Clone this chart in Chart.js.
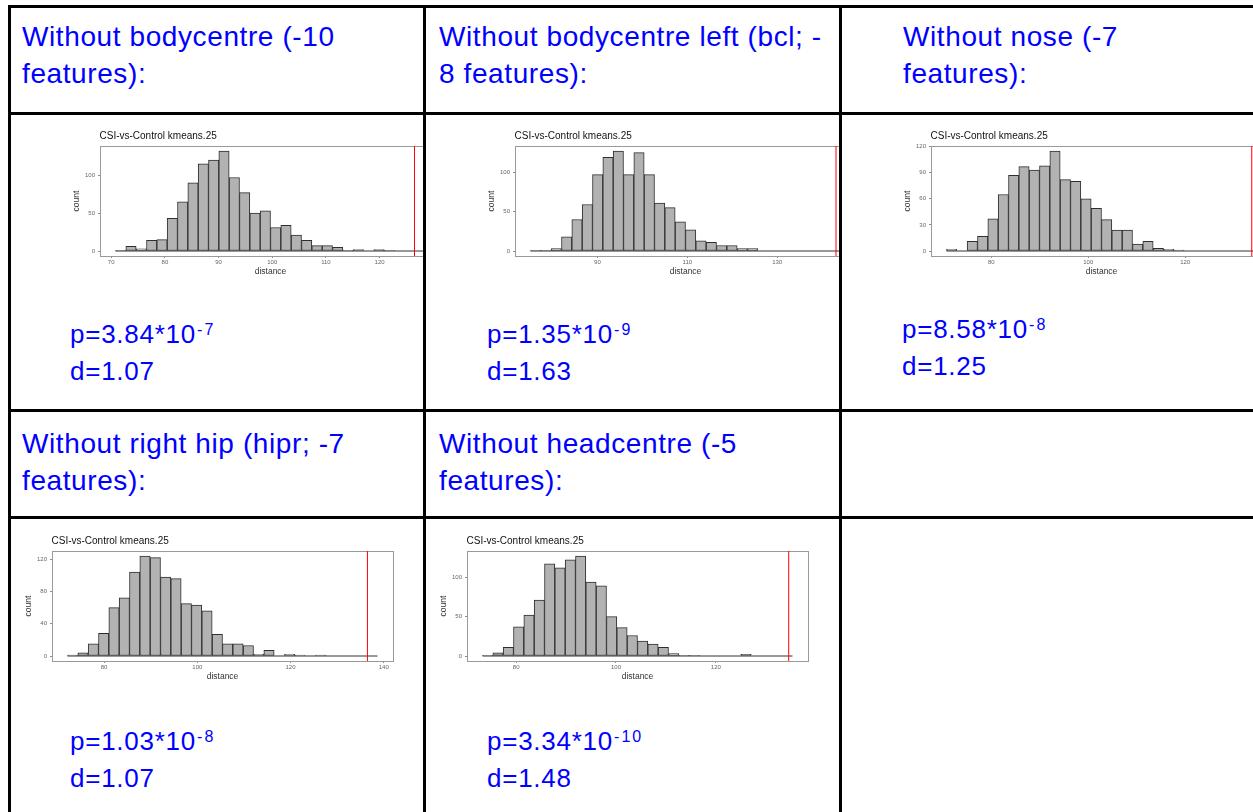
<!DOCTYPE html>
<html>
<head>
<meta charset="utf-8">
<script src="https://cdn.jsdelivr.net/npm/chart.js@4.4.0/dist/chart.umd.min.js"></script>
<style>
  body { margin: 0; width: 1253px; height: 812px; overflow: hidden; background: #fff; position: relative;
         font-family: 'Liberation Sans', Arial, sans-serif; }
  .hl { position: absolute; left: 7.5px; right: 0; height: 3px; background: #000; }
  .vl { position: absolute; top: 5px; bottom: 0; width: 3px; background: #000; }
  .head { position: absolute; color: #0000ff; font-size: 28px; line-height: 37px; letter-spacing: 0.6px; white-space: nowrap; }
  .stat { position: absolute; color: #0000ff; font-size: 26px; line-height: 37px; letter-spacing: 0.75px; white-space: nowrap; }
  .sup { font-size: 16px; line-height: 0; position: relative; top: -8px; letter-spacing: 2px; margin-left: 1px; }
  .clip { position: absolute; overflow: hidden; }
  .clip canvas { position: absolute; }
</style>
</head>
<body>

<!-- table rules -->
<div class="hl" style="top:5px"></div>
<div class="hl" style="top:112px"></div>
<div class="hl" style="top:408.5px"></div>
<div class="hl" style="top:516px"></div>
<div class="vl" style="left:7.5px"></div>
<div class="vl" style="left:423px"></div>
<div class="vl" style="left:839px"></div>

<!-- header cells -->
<div class="head" style="left:22px;top:18px">Without bodycentre (-10<br>features):</div>
<div class="head" style="left:439px;top:18px">Without bodycentre left (bcl; -<br>8 features):</div>
<div class="head" style="left:903px;top:18px">Without nose (-7<br>features):</div>
<div class="head" style="left:22px;top:425px">Without right hip (hipr; -7<br>features):</div>
<div class="head" style="left:439px;top:425px">Without headcentre (-5<br>features):</div>

<!-- statistics -->
<div class="stat" style="left:70px;top:316px">p=3.84*10<span class="sup">-7</span><br>d=1.07</div>
<div class="stat" style="left:487px;top:316px">p=1.35*10<span class="sup">-9</span><br>d=1.63</div>
<div class="stat" style="left:902px;top:311px">p=8.58*10<span class="sup">-8</span><br>d=1.25</div>
<div class="stat" style="left:70px;top:722.5px">p=1.03*10<span class="sup">-8</span><br>d=1.07</div>
<div class="stat" style="left:487px;top:722.5px">p=3.34*10<span class="sup">-10</span><br>d=1.48</div>

<!-- chart cells -->
<div class="clip" style="left:10.5px;top:115px;width:412.5px;height:293.5px"><canvas id="c1"></canvas></div>
<div class="clip" style="left:426px;top:115px;width:413px;height:293.5px"><canvas id="c2"></canvas></div>
<div class="clip" style="left:842px;top:115px;width:411px;height:293.5px"><canvas id="c3"></canvas></div>
<div class="clip" style="left:10.5px;top:519px;width:412.5px;height:293px"><canvas id="c4"></canvas></div>
<div class="clip" style="left:426px;top:519px;width:413px;height:293px"><canvas id="c5"></canvas></div>

<script>
const plotTitle = 'CSI-vs-Control kmeans.25';
const xLabel = 'distance';
const yLabel = 'count';

// without bodycentre
const binStart1 = 70.8, binWidth1 = 1.925;
const counts1 = [1, 6, 3, 14, 15, 43, 65, 90, 115, 120, 132, 97, 77, 50, 53, 31, 34, 21, 14, 7, 7, 5, 1, 2, 0, 2, 1, 0, 0, 0];
const observed1 = 126.5;
const xTicks1 = [70, 80, 90, 100, 110, 120, 130];
const yTicks1 = [0, 50, 100];

// without bodycentre left
const binStart2 = 75.1, binWidth2 = 2.3;
const counts2 = [1, 1, 3, 18, 40, 59, 97, 119, 127, 97, 125, 97, 61, 55, 37, 27, 13, 11, 7, 7, 3, 3, 0, 0, 0, 0, 0, 0, 0, 0];
const observed2 = 143.1;
const xTicks2 = [90, 110, 130];
const yTicks2 = [0, 50, 100];

// without nose
const binStart3 = 70.74, binWidth3 = 2.133;
const counts3 = [2, 0, 11, 17, 37, 65, 87, 97, 93, 98, 115, 82, 80, 60, 49, 36, 24, 24, 8, 11, 3, 2, 1, 0, 0, 0, 0, 0, 0, 0];
const observed3 = 133.75;
const xTicks3 = [80, 100, 120, 140];
const yTicks3 = [0, 30, 60, 90, 120];

// without right hip
const binStart4 = 72.15, binWidth4 = 2.217;
const counts4 = [1, 4, 15, 28, 60, 72, 104, 124, 122, 98, 96, 65, 63, 56, 27, 15, 15, 13, 2, 7, 0, 2, 1, 0, 1, 0, 0, 0, 0, 0];
const observed4 = 136.5;
const xTicks4 = [80, 100, 120, 140];
const yTicks4 = [0, 40, 80, 120];

// without headcentre
const binStart5 = 73.26, binWidth5 = 2.07;
const counts5 = [1, 4, 11, 37, 52, 71, 117, 112, 122, 127, 94, 89, 50, 36, 26, 19, 15, 11, 3, 1, 1, 0, 0, 0, 0, 2, 0, 0, 0, 0];
const observed5 = 134.6;
const xTicks5 = [80, 100, 120];
const yTicks5 = [0, 50, 100];

const FONT = "'Liberation Sans', Arial, sans-serif";
const AXIS_W = 28, AXIS_H = 21, PAD_TOP = 16, PAD_RIGHT = 4;
const AREA_W = 341, AREA_H = 110;

// ggplot-ish title, aligned with the panel
const titlePlugin = {
    id: 'ggTitle',
    afterDraw(chart) {
        const {ctx, chartArea} = chart;
        ctx.save();
        ctx.font = '10px ' + FONT;
        ctx.fillStyle = '#111';
        ctx.textBaseline = 'middle';
        ctx.fillText(plotTitle, chartArea.left - 0.5, chartArea.top - 9.5);
        ctx.restore();
    }
};

// panel border
const framePlugin = {
    id: 'frame',
    beforeDatasetsDraw(chart) {
        const {ctx, chartArea: a} = chart;
        ctx.save();
        ctx.strokeStyle = '#9a9a9a';
        ctx.lineWidth = 1;
        ctx.strokeRect(Math.round(a.left) + 0.5, Math.round(a.top) + 0.5,
                       Math.round(a.right - a.left), Math.round(a.bottom - a.top));
        ctx.restore();
    }
};

function drawHist(id, clipLeft, clipTop, areaLeft, areaTop, binStart, binWidth, counts, observed, xTicks, yTicks) {
    const canvas = document.getElementById(id);
    canvas.width = AXIS_W + AREA_W + PAD_RIGHT;
    canvas.height = PAD_TOP + AREA_H + AXIS_H;
    canvas.style.left = Math.round(areaLeft - AXIS_W - clipLeft) + 'px';
    canvas.style.top = Math.round(areaTop - PAD_TOP - clipTop) + 'px';

    const binEnd = binStart + counts.length * binWidth;
    const xPad = 0.05 * (binEnd - binStart);
    const maxCount = Math.max(...counts);
    const yMin = -0.05 * maxCount, yMax = 1.05 * maxCount;

    return new Chart(canvas, {
        type: 'bar',
        data: {
            datasets: [{
                type: 'line',
                label: 'observed',
                data: [{x: observed, y: yMin}, {x: observed, y: yMax}],
                borderColor: 'rgb(255, 0, 0)',
                backgroundColor: 'rgb(255, 0, 0)',
                borderWidth: 1,
                pointRadius: 0,
                fill: false,
                order: 1
            }, {
                type: 'line',
                label: 'baseline',
                data: [{x: binStart, y: 0}, {x: binEnd, y: 0}],
                borderColor: '#333',
                borderWidth: 1,
                pointRadius: 0,
                fill: false,
                order: 2
            }, {
                type: 'bar',
                label: 'count',
                data: counts.map((c, i) => ({x: binStart + (i + 0.5) * binWidth, y: c})),
                backgroundColor: '#b2b2b2',
                borderColor: '#2e2e2e',
                borderWidth: 1,
                borderSkipped: false,
                barPercentage: 1,
                categoryPercentage: 1,
                order: 3
            }]
        },
        options: {
            responsive: false,
            animation: false,
            events: [],
            layout: {autoPadding: false, padding: {top: PAD_TOP, right: PAD_RIGHT, left: 0, bottom: 0}},
            scales: {
                x: {
                    type: 'linear',
                    offset: false,
                    min: binStart - xPad,
                    max: binEnd + xPad,
                    afterBuildTicks: s => { s.ticks = xTicks.map(v => ({value: v})); },
                    afterFit: s => { s.height = AXIS_H; s.paddingLeft = 0; s.paddingRight = 0; },
                    grid: {offset: false, drawOnChartArea: false, drawTicks: true, tickLength: 2, color: '#8a8a8a'},
                    border: {display: false},
                    ticks: {font: {family: FONT, size: 6}, color: '#666', padding: 1, maxRotation: 0, autoSkip: false},
                    title: {display: true, text: xLabel, font: {family: FONT, size: 8.5}, color: '#333', padding: 0}
                },
                y: {
                    min: yMin,
                    max: yMax,
                    afterBuildTicks: s => { s.ticks = yTicks.map(v => ({value: v})); },
                    afterFit: s => { s.width = AXIS_W; s.paddingTop = 0; s.paddingBottom = 0; },
                    grid: {offset: false, drawOnChartArea: false, drawTicks: true, tickLength: 2, color: '#8a8a8a'},
                    border: {display: false},
                    ticks: {font: {family: FONT, size: 6}, color: '#666', padding: 3},
                    title: {display: true, text: yLabel, font: {family: FONT, size: 8.5}, color: '#333', padding: 0}
                }
            },
            plugins: {
                legend: {display: false},
                tooltip: {enabled: false},
                title: {display: false}
            }
        },
        plugins: [framePlugin, titlePlugin]
    });
}

drawHist('c1', 10.5, 115, 99.3, 145.7, binStart1, binWidth1, counts1, observed1, xTicks1, yTicks1);
drawHist('c2', 426, 115, 515, 145.7, binStart2, binWidth2, counts2, observed2, xTicks2, yTicks2);
drawHist('c3', 842, 115, 931, 145.7, binStart3, binWidth3, counts3, observed3, xTicks3, yTicks3);
drawHist('c4', 10.5, 519, 51, 551.3, binStart4, binWidth4, counts4, observed4, xTicks4, yTicks4);
drawHist('c5', 426, 519, 467.3, 550.7, binStart5, binWidth5, counts5, observed5, xTicks5, yTicks5);
</script>
</body>
</html>
